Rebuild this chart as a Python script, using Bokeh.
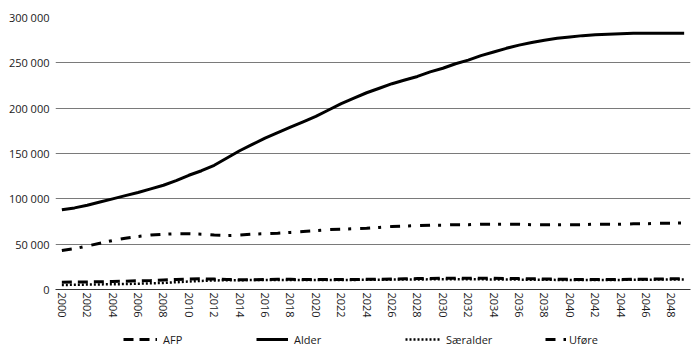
from bokeh.plotting import figure
from bokeh.layouts import column
from bokeh.models import Range1d, FixedTicker, Legend, LegendItem
from bokeh.embed import file_html
from bokeh.resources import INLINE

years = list(range(2000, 2050))
alder = [88000, 90000, 93000, 96500, 100000, 103500, 107000, 111000, 115000, 120000,
         126000, 131000, 137000, 145000, 153000, 160000, 167000, 173000, 179000, 185000,
         191000, 198000, 205000, 211000, 217000, 222000, 227000, 231000, 235000, 240000,
         244000, 249000, 253000, 258000, 262000, 266000, 269500, 272500, 275000, 277000,
         278500, 280000, 281000, 281500, 282000, 282500, 282500, 282500, 282500, 282500]
ufore = [43000, 45000, 48000, 51000, 54000, 56500, 58500, 60000, 61000, 61500,
         61500, 61000, 60000, 59500, 60000, 61000, 61500, 62000, 63000, 64000,
         65000, 66000, 66500, 67000, 67500, 68500, 69500, 70000, 70500, 71000,
         71000, 71500, 71500, 72000, 72000, 72000, 72000, 71500, 71500, 71500,
         71500, 71500, 72000, 72000, 72000, 72500, 72500, 73000, 73000, 73500]
afp = [8000, 8200, 8400, 8600, 8800, 9200, 9600, 10000, 10500, 11000,
       11500, 11800, 11500, 11000, 10800, 10800, 11000, 11200, 11200, 11000,
       11000, 11000, 11000, 11000, 11200, 11400, 11600, 11800, 12000, 12200,
       12300, 12400, 12400, 12400, 12300, 12200, 12000, 11800, 11600, 11400,
       11200, 11000, 11000, 11000, 11000, 11200, 11400, 11600, 11800, 12000]
saeralder = [5000, 5200, 5400, 5600, 5800, 6000, 6400, 6800, 7300, 8000,
             8800, 9500, 10000, 10200, 10300, 10400, 10500, 10600, 10600, 10600,
             10600, 10600, 10600, 10600, 10700, 10800, 10900, 11000, 11100, 11200,
             11200, 11200, 11200, 11200, 11100, 11000, 10900, 10800, 10700, 10600,
             10500, 10500, 10500, 10500, 10600, 10700, 10800, 10900, 11000, 11000]
x_ticks = list(range(2000, 2050, 2))
y_ticks = [0, 50000, 100000, 150000, 200000, 250000, 300000]
y_labels = ["0", "50 000", "100 000", "150 000", "200 000", "250 000", "300 000"]
series_names = ["AFP", "Alder", "Særalder", "Uføre"]

FONT = "Open Sans"
TEXT = "#1a1a1a"
styles = [dict(line_width=3, line_dash="10 6"),
          dict(line_width=3, line_dash="solid"),
          dict(line_width=2.5, line_dash="2 2"),
          dict(line_width=3, line_dash="10 8 3 9")]
series = [afp, alder, saeralder, ufore]

p = figure(width=692, height=329, output_backend="svg", toolbar_location=None,
           x_range=Range1d(1999.5, 2049.5), y_range=Range1d(0, 300000),
           min_border_left=55, min_border_right=2, min_border_top=17, min_border_bottom=40)
p.outline_line_color = None

for vals, st in zip(series, styles):
    p.line(years, vals, line_color="black", **st)

# axes
p.xaxis.ticker = FixedTicker(ticks=x_ticks)
p.xaxis.major_label_orientation = "vertical"
p.xaxis.major_tick_line_color = None
p.xaxis.major_tick_out = 0
p.xaxis.major_tick_in = 0
p.xaxis.minor_tick_line_color = None
p.xaxis.axis_line_color = "#333333"
p.xaxis.major_label_standoff = 3
p.xaxis.major_label_text_font = FONT
p.xaxis.major_label_text_font_size = "11px"
p.xaxis.major_label_text_color = TEXT

p.yaxis.ticker = FixedTicker(ticks=y_ticks)
p.yaxis.major_label_overrides = {t: l for t, l in zip(y_ticks, y_labels)}
p.yaxis.axis_line_color = None
p.yaxis.major_tick_line_color = None
p.yaxis.major_tick_out = 0
p.yaxis.major_tick_in = 0
p.yaxis.minor_tick_line_color = None
p.yaxis.major_label_standoff = 6
p.yaxis.major_label_text_font = FONT
p.yaxis.major_label_text_font_size = "11px"
p.yaxis.major_label_text_color = TEXT

p.xgrid.grid_line_color = None
p.ygrid.grid_line_color = "#7a7a7a"
p.ygrid.grid_line_width = 1

# legend strip (its lines lie outside its visible y range; only the legend shows)
p2 = figure(width=692, height=27, output_backend="svg", toolbar_location=None,
            x_axis_type=None, y_axis_type=None,
            x_range=Range1d(1999.5, 2049.5), y_range=Range1d(-2, -1),
            min_border_left=55, min_border_right=2, min_border_top=0, min_border_bottom=0)
p2.outline_line_color = None
p2.grid.grid_line_color = None
locs = [(68, 7), (201, 7), (350, 7), (490, 7)]
gws = [34, 32, 35, 21]
stands = [6, 6, 6, 3]
for name, vals, st, loc, gw, sd in zip(series_names, series, styles, locs, gws, stands):
    r = p2.line(years, vals, line_color="black", **st)
    lg = Legend(items=[LegendItem(label=name, renderers=[r])], location=loc,
                orientation="horizontal", padding=0, margin=0,
                glyph_width=gw, glyph_height=20, label_standoff=sd,
                border_line_color=None, background_fill_alpha=0,
                label_text_font=FONT, label_text_font_size="11px",
                label_text_color=TEXT)
    p2.add_layout(lg, "center")

open("out.html", "w").write(file_html(column(p, p2, spacing=0), INLINE))
